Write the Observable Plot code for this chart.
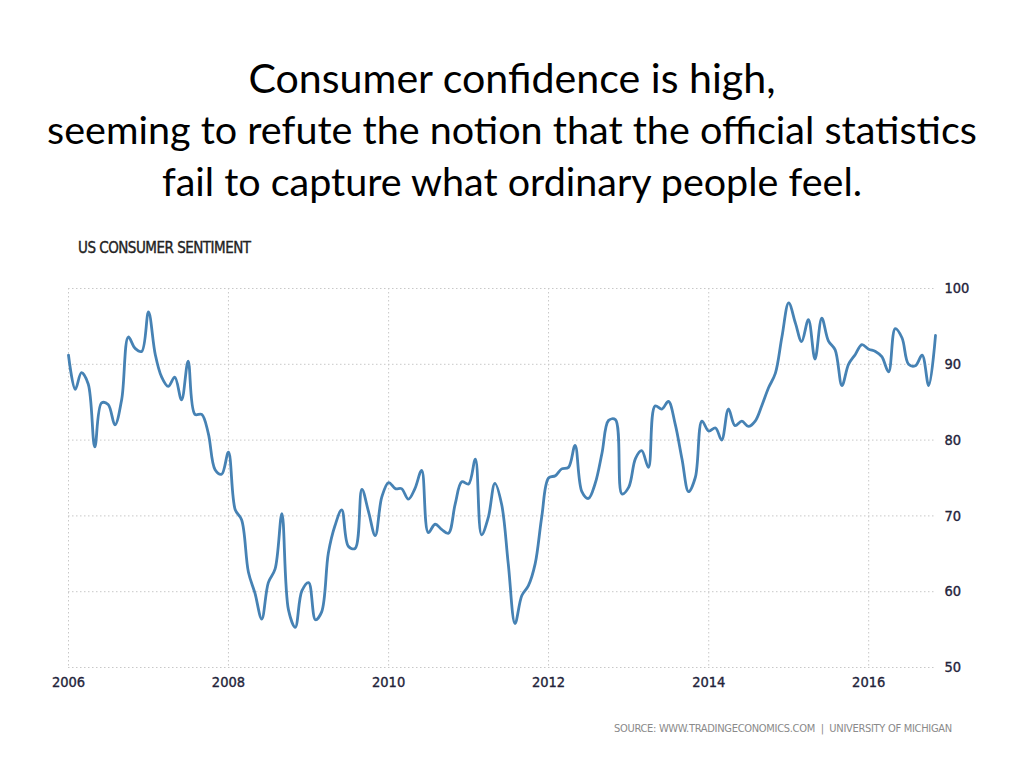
<!DOCTYPE html>
<html>
<head>
<meta charset="utf-8">
<script src="https://cdn.jsdelivr.net/npm/d3@7"></script>
<script src="https://cdn.jsdelivr.net/npm/@observablehq/plot@0.6"></script>
<style>
  html, body { margin: 0; padding: 0; background: #fff; }
  #page { position: relative; width: 1024px; height: 768px; overflow: hidden; }
  .tl { position: absolute; left: 0; width: 1024px; text-align: center; font-family: Lato, "Open Sans", sans-serif; color: #000; white-space: nowrap; line-height: 1; }
  #sub { position: absolute; left: 78px; top: 239px; font-family: "DejaVu Sans Condensed", "DejaVu Sans", sans-serif; font-size: 15px; color: #222; letter-spacing: -0.5px; -webkit-text-stroke: 0.35px #222; }
  #src { position: absolute; left: 614px; top: 722px; font-family: "DejaVu Sans Condensed", "DejaVu Sans", sans-serif; font-size: 11px; color: #8a8a8a; letter-spacing: -0.3px; }
  #chart { position: absolute; left: 0; top: 230px; }
  #chart svg text { stroke: #23233a; stroke-width: 0.35px; }
</style>
</head>
<body>
<div id="page">
  <div class="tl" id="t1">Consumer confidence is high,</div>
  <div class="tl" id="t2">seeming to refute the notion that the official statistics</div>
  <div class="tl" id="t3">fail to capture what ordinary people feel.</div>
  <div id="sub">US CONSUMER SENTIMENT</div>
  <div id="chart"></div>
  <div id="src">SOURCE: WWW.TRADINGECONOMICS.COM &nbsp;|&nbsp; UNIVERSITY OF MICHIGAN</div>
</div>
<script>
// Monthly University of Michigan consumer sentiment, starting January 2006
const startMonth = "2006-01-01";
const s2006 = [91.2, 86.7, 88.9, 87.4, 79.1, 84.9, 84.7, 82.0, 85.4, 93.6, 92.1, 91.7];
const s2007 = [96.9, 91.3, 88.4, 87.1, 88.3, 85.3, 90.4, 83.4, 83.4, 80.9, 76.1, 75.5];
const s2008 = [78.4, 70.8, 69.5, 62.6, 59.8, 56.4, 61.2, 63.0, 70.3, 57.6, 55.3, 60.1];
const s2009 = [61.2, 56.3, 57.3, 65.1, 68.7, 70.8, 66.0, 65.7, 73.5, 70.6, 67.4, 72.5];
const s2010 = [74.4, 73.6, 73.6, 72.2, 73.6, 76.0, 67.8, 68.9, 68.2, 67.7, 71.6, 74.5];
const s2011 = [74.2, 77.5, 67.5, 69.8, 74.3, 71.5, 63.7, 55.8, 59.5, 60.8, 63.7, 69.9];
const s2012 = [75.0, 75.3, 76.2, 76.4, 79.3, 73.2, 72.3, 74.3, 78.3, 82.6, 82.7, 72.9];
const s2013 = [73.8, 77.6, 78.6, 76.4, 84.5, 84.1, 85.1, 82.1, 77.5, 73.2, 75.1, 82.5];
const s2014 = [81.2, 81.6, 80.0, 84.1, 81.9, 82.5, 81.8, 82.5, 84.6, 86.9, 88.8, 93.6];
const s2015 = [98.1, 95.4, 93.0, 95.9, 90.7, 96.1, 93.1, 91.9, 87.2, 90.0, 91.3, 92.6];
const s2016 = [92.0, 91.7, 91.0, 89.0, 94.7, 93.5, 90.0, 89.8, 91.2, 87.2, 93.8];

const yTicks = [50, 60, 70, 80, 90, 100];
const xTickYears = ["2006", "2008", "2010", "2012", "2014", "2016"];

const values = [].concat(s2006, s2007, s2008, s2009, s2010, s2011, s2012, s2013, s2014, s2015, s2016);
const start = new Date(startMonth);
const data = values.map((v, i) => ({ date: d3.utcMonth.offset(start, i), value: v }));
const xTicks = xTickYears.map(y => new Date(y + "-01-01"));

// Fit title lines to target widths
function fit(id, target) {
  const el = document.getElementById(id);
  const c = document.createElement("canvas").getContext("2d");
  c.font = `100px Lato`;
  const w = c.measureText(el.textContent).width;
  el.style.fontSize = (100 * target / w).toFixed(2) + "px";
}
fit("t1", 528); fit("t2", 930); fit("t3", 702);
document.getElementById("t1").style.top = "57px";
document.getElementById("t2").style.top = "109px";
document.getElementById("t3").style.top = "161px";

const chart = Plot.plot({
  width: 1024,
  height: 500,
  marginLeft: 68,
  marginRight: 89,
  marginTop: 58,
  marginBottom: 63,
  style: { fontFamily: "'DejaVu Sans Condensed', 'DejaVu Sans', sans-serif", fontSize: "14.5px", color: "#222", background: "transparent" },
  x: { type: "utc", domain: [start, data[data.length - 1].date] },
  y: { domain: [50, 100] },
  marks: [
    Plot.gridY(yTicks, { stroke: "#c8c8c8", strokeOpacity: 1, strokeDasharray: "1.5,2.5" }),
    Plot.gridX(xTicks, { stroke: "#c8c8c8", strokeOpacity: 1, strokeDasharray: "1.5,2.5" }),
    Plot.axisY(yTicks, { anchor: "right", tickSize: 0, tickPadding: 9, label: null, fill: "#23233a" }),
    Plot.axisX(xTicks, { anchor: "bottom", tickSize: 0, tickPadding: 9, tickFormat: d3.utcFormat("%Y"), label: null, fill: "#23233a" }),
    Plot.line(data, { x: "date", y: "value", stroke: "#4682b4", strokeWidth: 2.8, curve: "catmull-rom" })
  ]
});
document.getElementById("chart").appendChild(chart);
</script>
</body>
</html>
